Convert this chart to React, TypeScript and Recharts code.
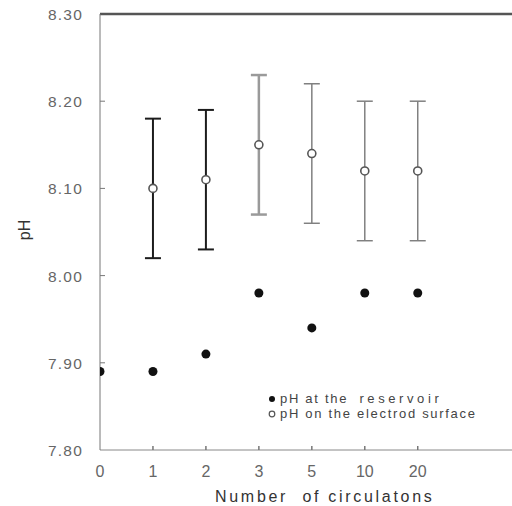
import React from "react";
import { ScatterChart, Scatter, XAxis, YAxis, ErrorBar, ReferenceLine } from "recharts";

const categories = ["0", "1", "2", "3", "5", "10", "20"];
const reservoirPH = [7.89, 7.89, 7.91, 7.98, 7.94, 7.98, 7.98];
const electrodePH = [null, 8.1, 8.11, 8.15, 8.14, 8.12, 8.12];
const electrodeErr = [null, 0.08, 0.08, 0.08, 0.08, 0.08, 0.08];
const yTicks = [7.8, 7.9, 8.0, 8.1, 8.2, 8.3];

// error bars in the original are drawn in three different inks
const barGroups = [
  { idx: [1, 2], stroke: "#1c1c1c", width: 2 },
  { idx: [3], stroke: "#9a9a9a", width: 2.5 },
  { idx: [4, 5, 6], stroke: "#808080", width: 1.5 },
];

const FONT = "'Liberation Sans', Arial, sans-serif";

const reservoirData = reservoirPH.map((v, i) => ({ x: i, y: v }));
const electrodeData = electrodePH
  .map((v, i) => ({ x: i, y: v, err: electrodeErr[i] }))
  .filter((d) => d.y != null);

const YTick = ({ x, y, payload }: any) => {
  const v = payload.value as number;
  const axisX = x + 18;
  return (
    <g>
      <text x={x + 1} y={y + 6} textAnchor="end" fill="#666" fontSize={15.5} letterSpacing={1.2} fontFamily={FONT}>
        {v.toFixed(2)}
      </text>
      {v > 7.8 && v < 8.3 && <line x1={axisX} x2={axisX + 5} y1={y} y2={y} stroke="#777" strokeWidth={1} />}
    </g>
  );
};

const XTick = ({ x, y, payload }: any) => {
  const i = payload.value as number;
  return (
    <g>
      <text x={x} y={y + 27} textAnchor="middle" fill="#666" fontSize={16} fontFamily={FONT}>
        {categories[i]}
      </text>
      {i > 0 && <line x1={x} x2={x} y1={y} y2={y - 4} stroke="#777" strokeWidth={1.5} />}
    </g>
  );
};

const FilledDot = ({ cx, cy }: any) => <circle cx={cx} cy={cy} r={4.5} fill="#111" />;
const OpenDot = ({ cx, cy }: any) => <circle cx={cx} cy={cy} r={4} fill="#fff" stroke="#555" strokeWidth={1.6} />;

export default function App() {
  return (
    <div style={{ position: "absolute", left: 0, top: 0, width: 512, height: 506, background: "#fff", fontFamily: FONT }}>
      <ScatterChart width={512} height={506} margin={{ top: 14, right: 0, bottom: 0, left: 0 }}>
        <XAxis
          type="number"
          dataKey="x"
          domain={[0, 7.78]}
          ticks={[0, 1, 2, 3, 4, 5, 6]}
          allowDataOverflow
          height={56}
          tickSize={0}
          tickMargin={0}
          tick={<XTick />}
          stroke="#888"
        />
        <YAxis
          type="number"
          dataKey="y"
          domain={[7.8, 8.3]}
          ticks={yTicks}
          allowDataOverflow
          width={100}
          tickSize={0}
          tickMargin={18}
          tick={<YTick />}
          stroke="#777"
        />
        <ReferenceLine y={8.3} stroke="#555" strokeWidth={2.5} />
        {barGroups.map((g, k) => (
          <Scatter
            key={k}
            data={electrodeData.filter((d) => g.idx.includes(d.x))}
            shape={<OpenDot />}
            isAnimationActive={false}
          >
            <ErrorBar dataKey="err" direction="y" width={8} stroke={g.stroke} strokeWidth={g.width} />
          </Scatter>
        ))}
        <Scatter data={reservoirData} shape={<FilledDot />} isAnimationActive={false} />
      </ScatterChart>
      <svg width={512} height={506} style={{ position: "absolute", left: 0, top: 0, pointerEvents: "none" }}>
        <text
          x={0}
          y={0}
          transform="translate(30 230) rotate(-90)"
          textAnchor="middle"
          fontSize={16}
          fill="#333"
          fontFamily={FONT}
        >
          pH
        </text>
        <text x={215} y={502} fontSize={16} fill="#333" letterSpacing={2.7} fontFamily={FONT} xmlSpace="preserve">
          Number  of circulatons
        </text>
        <circle cx={272} cy={399} r={3} fill="#111" />
        <text x={280} y={403} fontSize={13} fill="#444" letterSpacing={1.7} fontFamily={FONT}>
          pH at the <tspan dx={6} letterSpacing={3.6}>reservoir</tspan>
        </text>
        <circle cx={272} cy={414} r={2.8} fill="#fff" stroke="#555" strokeWidth={1.2} />
        <text x={280} y={418} fontSize={13} fill="#444" letterSpacing={1.7} fontFamily={FONT}>
          pH on the electrod surface
        </text>
      </svg>
    </div>
  );
}
